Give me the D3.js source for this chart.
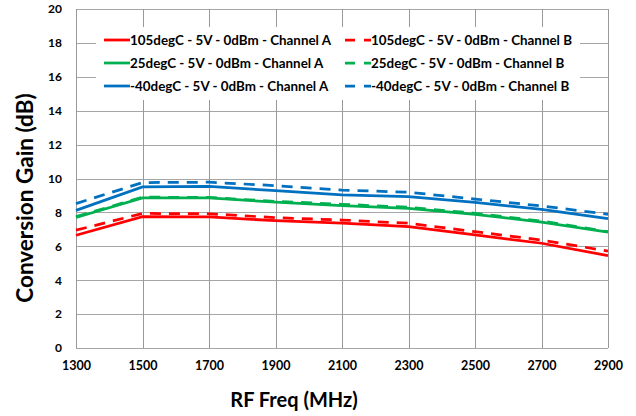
<!DOCTYPE html>
<html><head><meta charset="utf-8">
<script src="https://cdn.jsdelivr.net/npm/d3@7"></script>
<style>body{margin:0;background:#fff}svg{display:block}text{font-family:Lato,"Open Sans",sans-serif;font-weight:bold;fill:#000}</style>
</head><body><svg id="c" width="636" height="416"></svg>
<script>
const freqs = [1300,1500,1700,1900,2100,2300,2500,2700,2900];
const t105A = [6.65,7.75,7.73,7.51,7.36,7.16,6.67,6.18,5.45];
const t105B = [6.95,7.94,7.92,7.69,7.55,7.36,6.86,6.37,5.72];
const t25A  = [7.70,8.85,8.85,8.60,8.40,8.24,7.89,7.43,6.83];
const t25B  = [7.75,8.90,8.88,8.65,8.48,8.30,7.95,7.49,6.86];
const tm40A = [8.12,9.50,9.54,9.28,9.03,8.93,8.59,8.18,7.63];
const tm40B = [8.52,9.76,9.78,9.58,9.32,9.19,8.79,8.38,7.89];
const seriesNames = ["105degC - 5V - 0dBm - Channel A","105degC - 5V - 0dBm - Channel B",
  "25degC - 5V - 0dBm - Channel A","25degC - 5V - 0dBm - Channel B",
  "-40degC - 5V - 0dBm - Channel A","-40degC - 5V - 0dBm - Channel B"];
const seriesValues = [t105A,t105B,t25A,t25B,tm40A,tm40B];
const seriesColors = ["#FF0000","#FF0000","#00B050","#00B050","#0070C0","#0070C0"];
const seriesDashed = [false,true,false,true,false,true];
const yTicks = [0,2,4,6,8,10,12,14,16,18,20];
const xTicks = freqs;

const svg = d3.select("#c");
const L=76,R=608,T=9,B=348;
const x = d3.scaleLinear().domain([1300,2900]).range([L,R]);
const y = d3.scaleLinear().domain([0,20]).range([B,T]);

// grid
svg.append("g").selectAll("line").data(yTicks).join("line")
  .attr("x1",L).attr("x2",R).attr("y1",d=>Math.round(y(d))+0.5).attr("y2",d=>Math.round(y(d))+0.5)
  .attr("stroke","#a6a6a6").attr("stroke-width",1);
svg.append("g").selectAll("line").data(xTicks).join("line")
  .attr("y1",T).attr("y2",B).attr("x1",d=>Math.round(x(d))+0.5).attr("x2",d=>Math.round(x(d))+0.5)
  .attr("stroke","#999").attr("stroke-width",1);

// axes labels
const ya = svg.append("g").attr("transform",`translate(${L},0)`)
  .call(d3.axisLeft(y).tickValues(yTicks).tickSize(0).tickPadding(14));
ya.select(".domain").remove();
ya.selectAll("text").attr("font-size",12).attr("font-family","Lato").attr("font-weight","bold").attr("fill","#000");
const xa = svg.append("g").attr("transform",`translate(0,${B})`)
  .call(d3.axisBottom(x).tickValues(xTicks).tickFormat(d3.format("d")).tickSize(0).tickPadding(13));
xa.select(".domain").remove();
xa.selectAll("text").attr("font-size",12.5).attr("font-family","Lato").attr("font-weight","bold").attr("fill","#000");

// lines
const line = d3.line().x((d,i)=>x(freqs[i])).y(d=>y(d));
seriesValues.forEach((vals,k)=>{
  svg.append("path").datum(vals).attr("d",line).attr("fill","none")
    .attr("stroke",seriesColors[k]).attr("stroke-width",2.75)
    .attr("stroke-dasharray",seriesDashed[k]?"11,8":null);
});

// legend
svg.append("rect").attr("x",96).attr("y",27).attr("width",484).attr("height",73).attr("fill","#fff");
const lg = svg.append("g");
seriesNames.forEach((nm,k)=>{
  const col = k%2, row = Math.floor(k/2);
  const lx = col===0?104:345, ly = 40+row*23;
  lg.append("line").attr("x1",lx).attr("x2",lx+26).attr("y1",ly).attr("y2",ly)
    .attr("stroke",seriesColors[k]).attr("stroke-width",2.75)
    .attr("stroke-dasharray",seriesDashed[k]?"10,9":null);
  lg.append("text").attr("x",lx+26).attr("y",ly).attr("dy","0.35em")
    .attr("font-size",13.4).text(nm);
});

// titles
svg.append("text").attr("x",294).attr("y",400).attr("dy","0.35em").attr("text-anchor","middle")
  .attr("font-size",20).text("RF Freq (MHz)");
svg.append("text").attr("transform","translate(25,198) rotate(-90)").attr("dy","0.35em")
  .attr("text-anchor","middle").attr("font-size",22.5).text("Conversion Gain (dB)");
</script></body></html>
